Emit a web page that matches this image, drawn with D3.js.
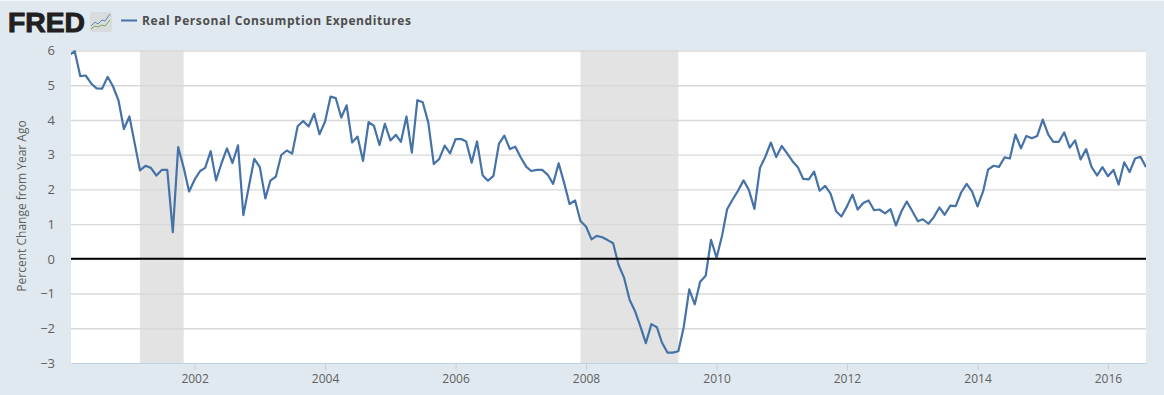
<!DOCTYPE html>
<html>
<head>
<meta charset="utf-8">
<script src="https://cdn.jsdelivr.net/npm/d3@7"></script>
<style>
    html, body { margin: 0; padding: 0; background: #e1e9f0; overflow: hidden; }
    text { font-family: "Open Sans", sans-serif; }
</style>
</head>
<body>
<script>
// monthly values, percent change from year ago, Feb 2000 to Aug 2016
const values2000 = [5.87, 5.98, 5.26, 5.28, 5.05, 4.91, 4.90, 5.24, 4.97, 4.56, 3.74];
const values2001 = [4.10, 3.29, 2.55, 2.68, 2.62, 2.40, 2.56, 2.56, 0.77, 3.22, 2.62, 1.94];
const values2002 = [2.28, 2.53, 2.62, 3.10, 2.26, 2.76, 3.18, 2.76, 3.27, 1.26, 2.09, 2.88];
const values2003 = [2.64, 1.74, 2.25, 2.37, 2.99, 3.12, 3.03, 3.82, 3.97, 3.81, 4.18, 3.59];
const values2004 = [3.95, 4.67, 4.63, 4.07, 4.42, 3.35, 3.52, 2.82, 3.94, 3.83, 3.28, 3.89];
const values2005 = [3.41, 3.57, 3.37, 4.10, 3.06, 4.57, 4.51, 3.93, 2.73, 2.87, 3.26, 3.04];
const values2006 = [3.45, 3.45, 3.38, 2.77, 3.38, 2.41, 2.25, 2.39, 3.32, 3.55, 3.16, 3.23];
const values2007 = [2.92, 2.65, 2.53, 2.56, 2.56, 2.42, 2.16, 2.75, 2.18, 1.58, 1.68, 1.09];
const values2008 = [0.93, 0.56, 0.66, 0.62, 0.54, 0.45, -0.17, -0.54, -1.18, -1.50, -1.95, -2.43];
const values2009 = [-1.88, -1.97, -2.41, -2.70, -2.70, -2.66, -1.97, -0.88, -1.31, -0.66, -0.49, 0.55];
const values2010 = [0.03, 0.67, 1.43, 1.71, 1.96, 2.26, 1.98, 1.44, 2.62, 2.94, 3.35, 2.93];
const values2011 = [3.25, 3.03, 2.82, 2.64, 2.30, 2.29, 2.51, 1.96, 2.10, 1.88, 1.37, 1.22];
const values2012 = [1.51, 1.85, 1.42, 1.61, 1.68, 1.40, 1.42, 1.31, 1.43, 0.96, 1.37, 1.65];
const values2013 = [1.37, 1.08, 1.14, 1.01, 1.20, 1.48, 1.27, 1.53, 1.52, 1.91, 2.16, 1.94];
const values2014 = [1.51, 1.94, 2.57, 2.68, 2.65, 2.92, 2.89, 3.58, 3.18, 3.54, 3.47, 3.54];
const values2015 = [4.01, 3.58, 3.37, 3.37, 3.64, 3.20, 3.41, 2.86, 3.16, 2.65, 2.40, 2.64];
const values2016 = [2.38, 2.56, 2.14, 2.78, 2.50, 2.89, 2.94, 2.64];

const recessionStart = ["2001-03-01", "2007-12-01"];
const recessionEnd = ["2001-11-01", "2009-06-01"];
const yTicks = [6, 5, 4, 3, 2, 1, 0, -1, -2, -3];
const yearTicks = [2002, 2004, 2006, 2008, 2010, 2012, 2014, 2016];
const seriesName = "Real Personal Consumption Expenditures";
const yTitle = "Percent Change from Year Ago";

const values = [].concat(values2000, values2001, values2002, values2003, values2004, values2005,
    values2006, values2007, values2008, values2009, values2010, values2011, values2012, values2013,
    values2014, values2015, values2016);
const months = d3.utcMonth.range(new Date(Date.UTC(2000, 1, 1)), new Date(Date.UTC(2016, 8, 1)));
const series = months.map((d, i) => ({ date: d, value: values[i] }));

const width = 1164, height = 395;
const plot = { left: 71, right: 1146, top: 50.5, bottom: 363 };

const svg = d3.select("body").append("svg")
    .attr("width", width)
    .attr("height", height)
    .style("display", "block");

svg.append("rect").attr("width", width).attr("height", height).attr("fill", "#e1e9f0");
svg.append("rect").attr("width", width).attr("height", 1).attr("fill", "#f4f6f8");

// scales
const x = d3.scaleUtc()
    .domain([new Date(Date.UTC(2000, 1, 9)), new Date(Date.UTC(2016, 7, 1))])
    .range([plot.left, plot.right]);
const y = d3.scaleLinear()
    .domain([-3, 6])
    .range([plot.bottom, plot.top]);

// plot background
svg.append("rect")
    .attr("x", plot.left)
    .attr("y", plot.top)
    .attr("width", plot.right - plot.left)
    .attr("height", plot.bottom - plot.top)
    .attr("fill", "#ffffff");

svg.append("clipPath").attr("id", "plot-clip").append("rect")
    .attr("x", plot.left)
    .attr("y", plot.top - 2)
    .attr("width", plot.right - plot.left)
    .attr("height", plot.bottom - plot.top + 4);

// recession bands
svg.selectAll(".recession")
    .data(recessionStart)
    .join("rect")
    .attr("class", "recession")
    .attr("x", d => x(new Date(d)))
    .attr("y", plot.top)
    .attr("width", (d, i) => x(new Date(recessionEnd[i])) - x(new Date(d)))
    .attr("height", plot.bottom - plot.top)
    .attr("fill", "#e3e3e3");

// y axis with the grid lines
const yAxis = svg.append("g")
    .attr("transform", `translate(${plot.left},0)`)
    .call(d3.axisLeft(y).tickValues(yTicks).tickSize(-(plot.right - plot.left)).tickPadding(16).tickFormat(d3.format("d")));
yAxis.select(".domain").remove();
yAxis.selectAll("line")
    .attr("stroke", "#d8d8d8")
    .attr("stroke-width", 1.4);
yAxis.selectAll("line").filter(d => d === -3).remove();
yAxis.selectAll("text")
    .attr("fill", "#606060")
    .style("font-size", "13px")
    .style("font-family", "'Open Sans', sans-serif");

// x axis
const xAxis = svg.append("g")
    .attr("transform", `translate(0,${plot.bottom})`)
    .call(d3.axisBottom(x)
        .tickValues(yearTicks.map(yr => new Date(Date.UTC(yr, 0, 1))))
        .tickSize(7)
        .tickPadding(4)
        .tickSizeOuter(0)
        .tickFormat(d3.utcFormat("%Y")));
xAxis.select(".domain").attr("stroke", "#c0d0e0");
xAxis.selectAll("line").attr("stroke", "#c0d0e0");
xAxis.selectAll("text")
    .attr("fill", "#606060")
    .style("font-size", "12px")
    .style("font-family", "'Open Sans', sans-serif");

// y title
svg.append("text")
    .attr("transform", `translate(26,206) rotate(-90)`)
    .attr("text-anchor", "middle")
    .attr("fill", "#606060")
    .style("font-size", "12px")
    .text(yTitle);

// series line
const line = d3.line()
    .x(d => x(d.date))
    .y(d => y(d.value));
svg.append("path")
    .datum(series)
    .attr("d", line)
    .attr("clip-path", "url(#plot-clip)")
    .attr("fill", "none")
    .attr("stroke", "#4572a7")
    .attr("stroke-width", 2.2)
    .attr("stroke-linejoin", "round");

// zero line on top
svg.append("line")
    .attr("x1", plot.left)
    .attr("x2", plot.right)
    .attr("y1", y(0))
    .attr("y2", y(0))
    .attr("stroke", "#000000")
    .attr("stroke-width", 2);

// header: logo
svg.append("text")
    .attr("x", 8)
    .attr("y", 31.5)
    .attr("textLength", 77)
    .attr("lengthAdjust", "spacingAndGlyphs")
    .attr("fill", "#231f20")
    .attr("stroke", "#231f20")
    .attr("stroke-width", 1)
    .style("font-family", "'Liberation Sans', sans-serif")
    .style("font-weight", "700")
    .style("font-size", "28px")
    .text("FRED");

const logoIcon = svg.append("g").attr("transform", "translate(90,12)");
logoIcon.append("rect")
    .attr("width", 22).attr("height", 20).attr("rx", 2)
    .attr("fill", "#d9dcdc");
logoIcon.append("path")
    .attr("d", "M1,14 L5,10 L8,12 L12,8 L15,9 L20,2")
    .attr("fill", "none").attr("stroke", "#5b87b5").attr("stroke-width", 1);
logoIcon.append("path")
    .attr("d", "M1,17 L5,14 L8,15 L12,13 L15,14 L20,8")
    .attr("fill", "none").attr("stroke", "#7da65a").attr("stroke-width", 1);

// header: legend
svg.append("line")
    .attr("x1", 121).attr("x2", 137)
    .attr("y1", 20.5).attr("y2", 20.5)
    .attr("stroke", "#4572a7")
    .attr("stroke-width", 2);
svg.append("text")
    .attr("x", 142)
    .attr("y", 25)
    .attr("fill", "#4d4d4d")
    .style("font-size", "12px")
    .style("font-weight", "700")
    .attr("textLength", 269)
    .text(seriesName);
</script>
</body>
</html>
